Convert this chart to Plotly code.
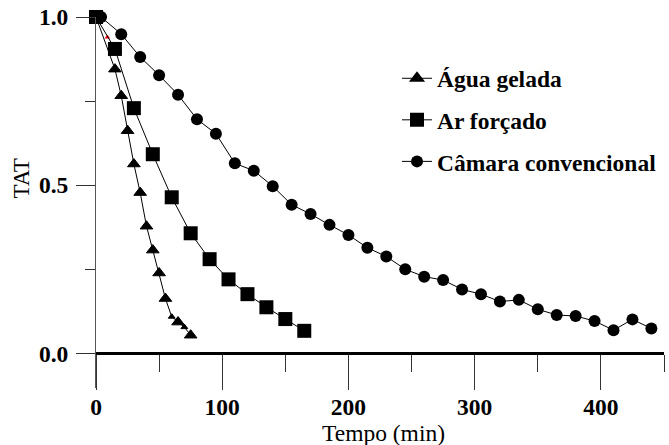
import plotly.graph_objects as go

# ---- data ----
agua_x = [0, 15, 20, 25, 30, 35, 40, 45, 50, 55, 60, 65, 70, 75]
agua_y = [1.0, 0.845, 0.766, 0.662, 0.563, 0.478, 0.378, 0.307, 0.239, 0.163, 0.109, 0.093, 0.078, 0.054]

ar_x = [0, 15, 30, 45, 60, 75, 90, 105, 120, 135, 150, 165]
ar_y = [1.0, 0.905, 0.729, 0.592, 0.464, 0.357, 0.280, 0.220, 0.176, 0.137, 0.102, 0.067]

cam_x = [4, 20, 35, 50, 65, 80, 95, 110, 125, 140, 155, 170, 185, 200, 215,
         230, 245, 260, 275, 290, 305, 320, 335, 350, 365, 380, 395, 410, 425, 440]
cam_y = [1.0, 0.949, 0.881, 0.827, 0.769, 0.696, 0.653, 0.565, 0.543, 0.497,
         0.442, 0.414, 0.382, 0.352, 0.314, 0.288, 0.250, 0.228, 0.218, 0.190,
         0.176, 0.154, 0.159, 0.131, 0.114, 0.111, 0.096, 0.069, 0.101, 0.074]

red_x = [9]
red_y = [0.94]

names = ["Água gelada", "Ar forçado", "Câmara convencional"]
x_tickvals = [0, 100, 200, 300, 400]
y_tickvals = [0.0, 0.5, 1.0]

# ---- styling ----
SERIF = "Liberation Serif"
W, H = 669, 445
ML, MR, MT, MB = 96, 5, 17, 57
YMIN, YMAX = -0.103, 1.0
x_pos = (0 - YMIN) / (YMAX - YMIN)
PW, PH = W - ML - MR, H - MT - MB

agua_sizes = [11] * len(agua_x)
agua_sizes[10] = 6
agua_sizes[12] = 6

fig = go.Figure()

fig.add_trace(go.Scatter(
    x=agua_x, y=agua_y, name=names[0], mode="lines+markers",
    line=dict(color="black", width=1),
    marker=dict(symbol="triangle-up", size=agua_sizes, color="black", opacity=1,
                line=dict(color="black", width=1)),
    cliponaxis=False, showlegend=False, legendgroup="a",
))
fig.add_trace(go.Scatter(
    x=red_x, y=red_y, mode="markers", showlegend=False,
    marker=dict(symbol="triangle-up", size=5, color="red"),
    cliponaxis=False,
))
fig.add_trace(go.Scatter(
    x=cam_x, y=cam_y, name=names[2], mode="lines+markers",
    line=dict(color="black", width=1),
    marker=dict(symbol="circle", size=12, color="black"),
    cliponaxis=False, legendrank=3, legendgroup="c",
))
fig.add_trace(go.Scatter(
    x=ar_x, y=ar_y, name=names[1], mode="lines+markers",
    line=dict(color="black", width=1),
    marker=dict(symbol="square", size=14, color="black"),
    cliponaxis=False, legendrank=2, legendgroup="b",
))
# legend entry for the triangle series (uniform marker size)
fig.add_trace(go.Scatter(
    x=[None], y=[None], name=names[0], mode="lines+markers",
    line=dict(color="black", width=1),
    marker=dict(symbol="triangle-up", size=14, color="black"),
    legendrank=1, legendgroup="a",
))

tickfont = dict(family=SERIF, size=23.5, color="black", weight="bold")

fig.update_layout(
    width=W, height=H,
    margin=dict(l=ML, r=MR, t=MT, b=MB, pad=0, autoexpand=False),
    paper_bgcolor="white", plot_bgcolor="white",
    showlegend=True,
    legend=dict(
        x=(397 - ML) / PW, y=(H - MB - 56.5) / PH, xanchor="left", yanchor="top",
        font=dict(family=SERIF, size=23.5, color="black", weight="bold"),
        bgcolor="rgba(0,0,0,0)", tracegroupgap=8,
        traceorder="grouped",
    ),
    xaxis=dict(
        range=[0, 450], anchor="free", position=x_pos,
        showgrid=False, zeroline=False,
        showline=True, linecolor="black", linewidth=2.5,
        tickmode="array", tickvals=x_tickvals,
        ticks="outside", ticklen=35, tickwidth=1, tickcolor="#333",
        tickfont=tickfont, ticklabelstandoff=-3,
        minor=dict(dtick=50, tick0=0, ticks="outside", ticklen=17,
                   tickwidth=1, tickcolor="#333", showgrid=False),
    ),
    yaxis=dict(
        range=[YMIN, YMAX],
        showgrid=False, zeroline=False,
        showline=True, linecolor="#555", linewidth=1,
        tickmode="array", tickvals=y_tickvals, tickformat=".1f",
        ticks="outside", ticklen=19, tickwidth=1, tickcolor="#333",
        tickfont=tickfont, ticklabelstandoff=3,
        minor=dict(tickvals=[0.25, 0.75], ticks="outside", ticklen=10,
                   tickwidth=1, tickcolor="#333", showgrid=False),
    ),
    annotations=[
        dict(text="TAT", xref="paper", yref="paper",
             x=(21 - ML) / PW, y=(H - MB - 178.5) / PH,
             xanchor="center", yanchor="middle", textangle=-90,
             showarrow=False, font=dict(family=SERIF, size=23, color="black")),
        dict(text="Tempo (min)", xref="paper", yref="paper",
             x=(383 - ML) / PW, y=(H - MB - 432.5) / PH,
             xanchor="center", yanchor="middle",
             showarrow=False, font=dict(family=SERIF, size=23.5, color="black")),
    ],
)

# remove the browser's default 8px page margin so the figure sits at (0, 0)
fig.write_html("out.html", config={"displayModeBar": False},
               post_script="document.body.style.margin='0';document.body.style.overflow='hidden';")
